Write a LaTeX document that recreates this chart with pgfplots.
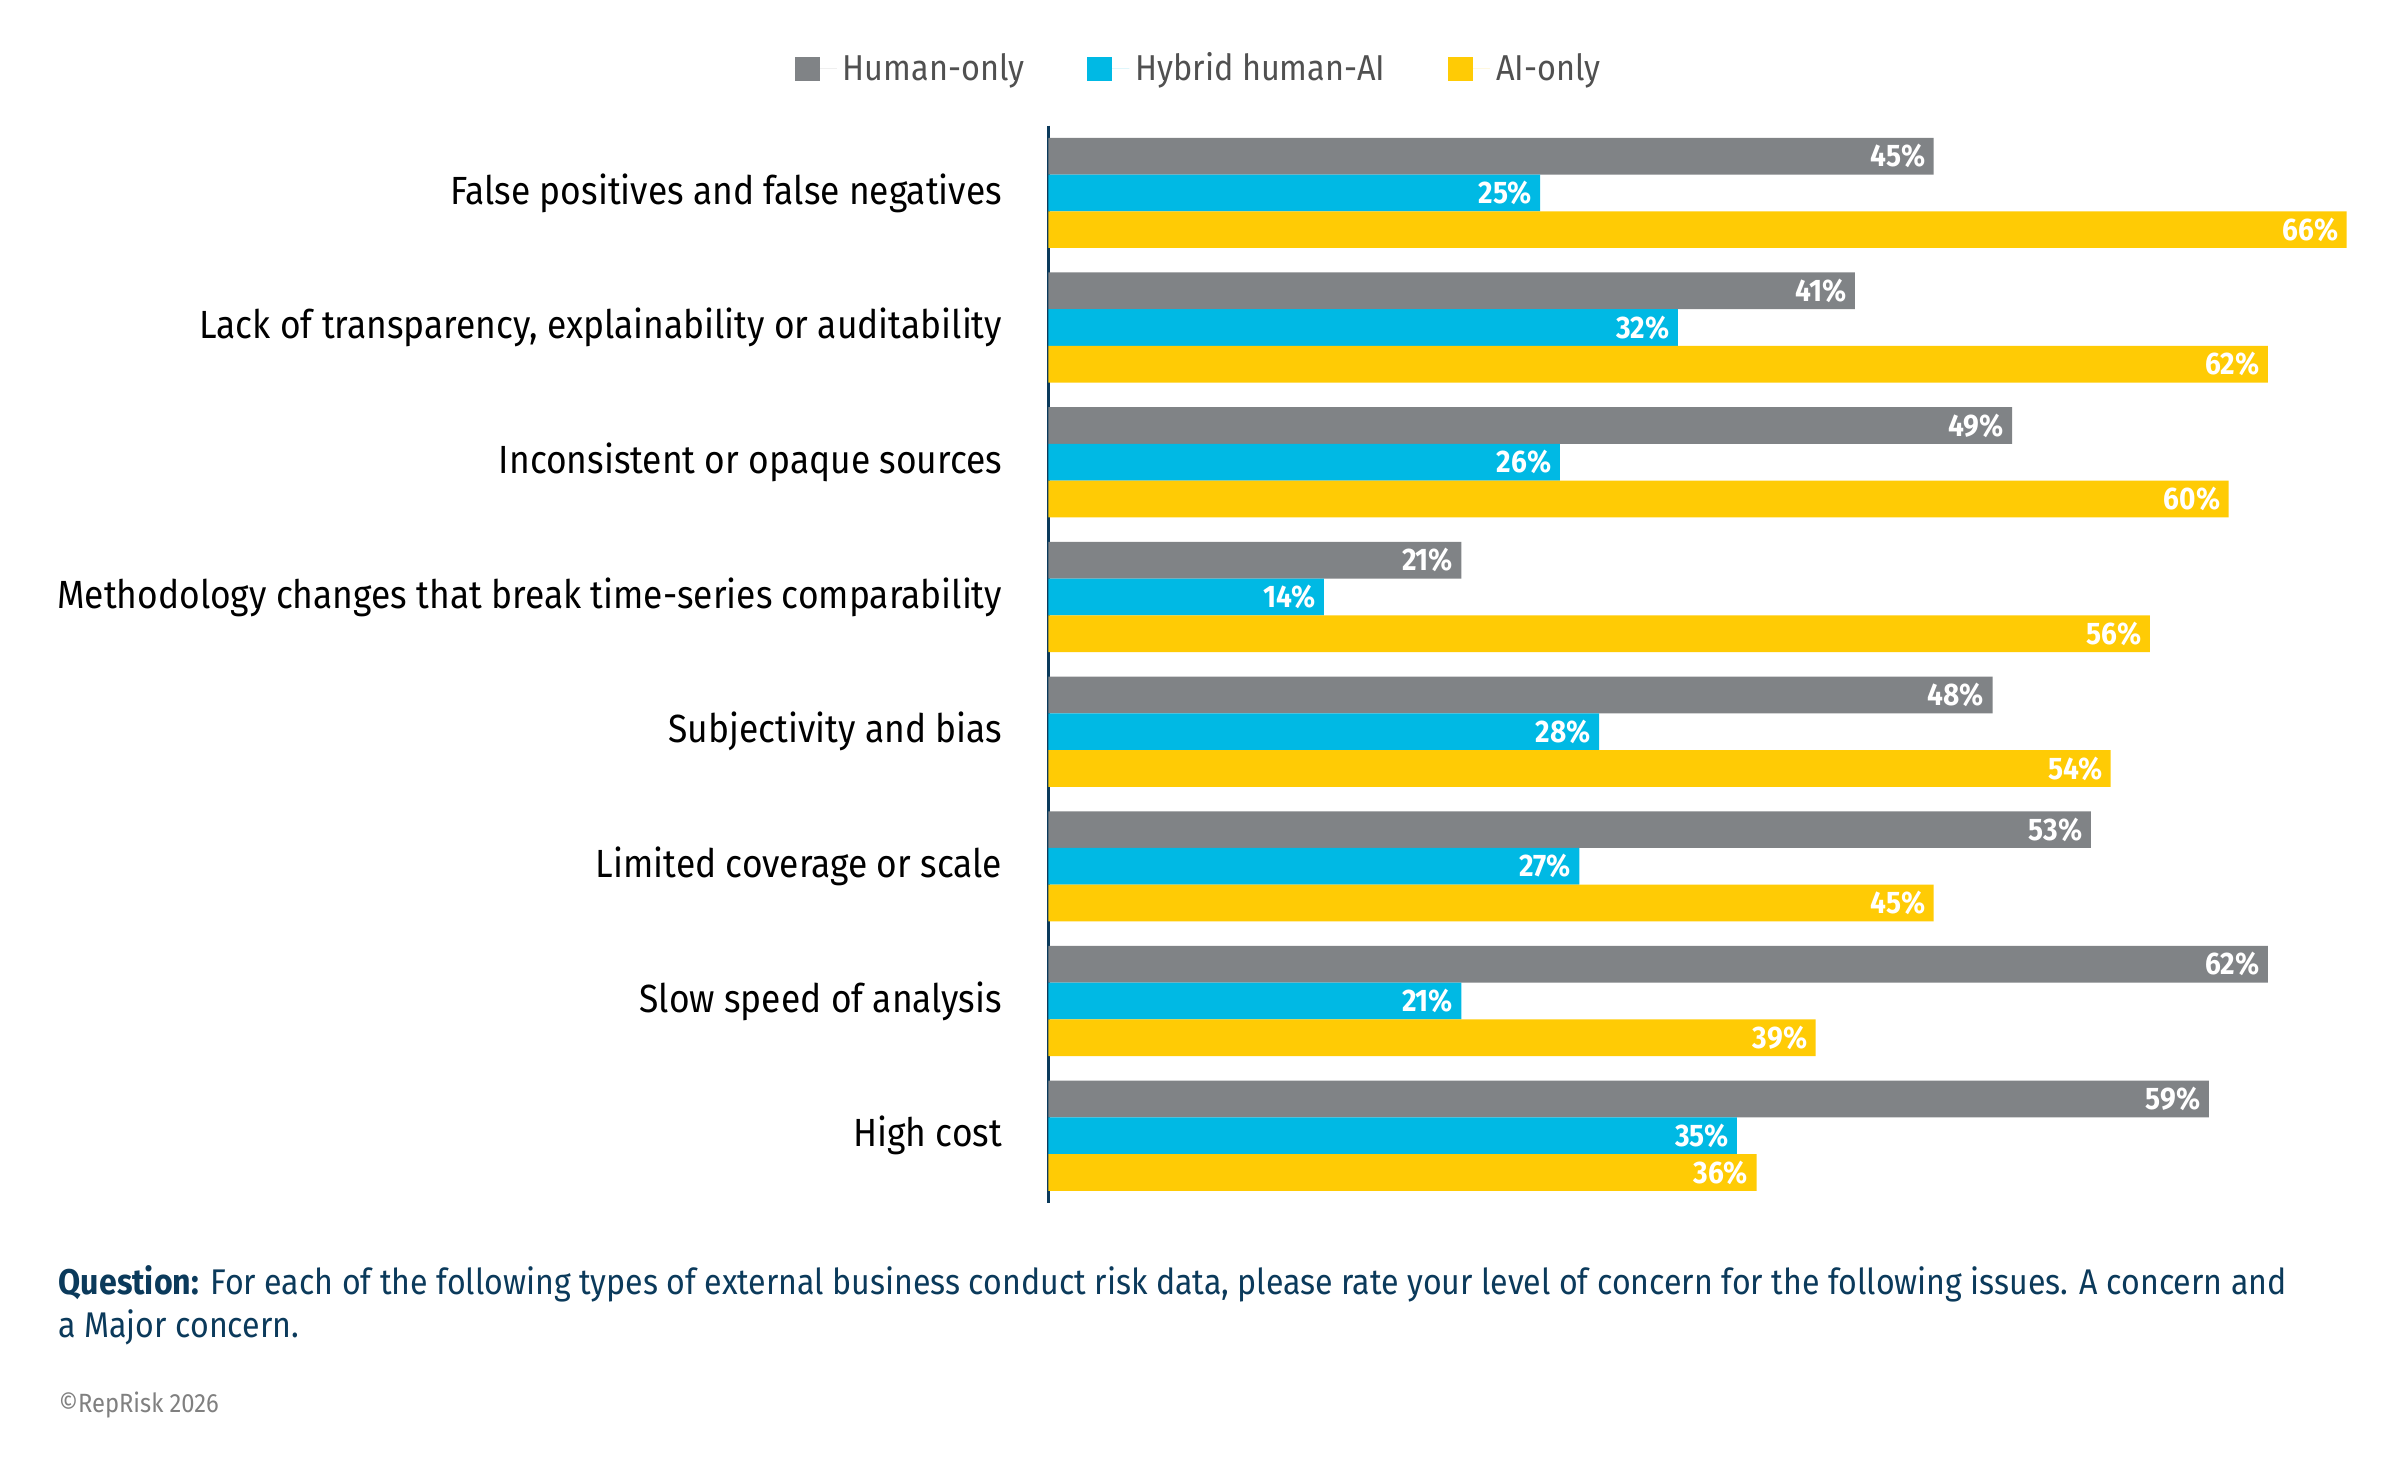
\documentclass[border=0pt]{standalone}
\usepackage{fontspec}
\setmainfont{Fira Sans}[FakeStretch=0.9]
\usepackage{pgfplots}
\pgfplotsset{compat=1.18}
\definecolor{cgray}{HTML}{808386}
\definecolor{ccyan}{HTML}{00B9E4}
\definecolor{cyel}{HTML}{FFCB05}
\definecolor{navy}{HTML}{0B3A5B}
\definecolor{legtext}{HTML}{505050}
\definecolor{copygray}{HTML}{808080}
\begin{document}
\begin{tikzpicture}
\useasboundingbox[fill=white] (0pt,0pt) rectangle (800pt,-490.67pt);
\begin{axis}[
  at={(349.49pt,-401.02pt)}, anchor=south west,
  scale only axis, width=445.8pt, height=359.18pt,
  xbar, bar width=12.245pt,
  xmin=0, xmax=68, ymin=-0.5, ymax=7.5, y dir=reverse,
  axis x line=none,
  axis y line=left, axis line style={-, navy, line width=1pt},
  ytick={0,1,2,3,4,5,6,7},
  yticklabels={False positives and false negatives,
    {Lack of transparency, explainability or auditability},
    Inconsistent or opaque sources,
    Methodology changes that break time-series comparability,
    Subjectivity and bias,
    Limited coverage or scale,
    Slow speed of analysis,
    High cost},
  major tick length=0pt,
  yticklabel style={font=\fontsize{13.1}{15}\selectfont, inner sep=0pt, xshift=-15.3pt, text=black},
  /pgf/number format/assume math mode=true,
  point meta=x,
  nodes near coords={\pgfmathprintnumber{\pgfplotspointmeta}\%},
  nodes near coords style={anchor=east, font=\bfseries\fontsize{10.4}{12}\selectfont, text=white, inner sep=0pt, xshift=-2.6pt},
  legend columns=3,
  legend style={draw=none, fill=none, at={(0.1138,1.0526)}, anchor=center,
    font=\fontsize{12}{14}\selectfont, text=legtext,
    /tikz/every even column/.append style={column sep=19pt}},
]
\addplot[draw=none, fill=cgray, bar shift=12.245pt,
  legend image code/.code={\fill[cgray] (0pt,-4.1pt) rectangle (8.2pt,4.1pt); \path (0pt,0pt) -- (14pt,0pt);}]
  coordinates {(45,0) (41,1) (49,2) (21,3) (48,4) (53,5) (62,6) (59,7)};
\addlegendentry{Human-only}
\addplot[draw=none, fill=ccyan, bar shift=0pt,
  legend image code/.code={\fill[ccyan] (0pt,-4.1pt) rectangle (8.2pt,4.1pt); \path (0pt,0pt) -- (14pt,0pt);}]
  coordinates {(25,0) (32,1) (26,2) (14,3) (28,4) (27,5) (21,6) (35,7)};
\addlegendentry{Hybrid human-AI}
\addplot[draw=none, fill=cyel, bar shift=-12.245pt,
  legend image code/.code={\fill[cyel] (0pt,-4.1pt) rectangle (8.2pt,4.1pt); \path (0pt,0pt) -- (14pt,0pt);}]
  coordinates {(66,0) (62,1) (60,2) (56,3) (54,4) (45,5) (39,6) (36,7)};
\addlegendentry{AI-only}
\end{axis}
\node[anchor=base west, inner sep=0pt, text=navy, font=\fontsize{11.9}{14}\selectfont] at (19.39pt,-431.6pt)
  {\textbf{Question:} For each of the following types of external business conduct risk data, please rate your level of concern for the following issues. A concern and};
\node[anchor=base west, inner sep=0pt, text=navy, font=\fontsize{11.9}{14}\selectfont] at (19.39pt,-445.9pt)
  {a Major concern.};
\node[anchor=base west, inner sep=0pt, text=copygray, font=\fontsize{8.8}{10}\selectfont] at (19.39pt,-470.9pt)
  {©RepRisk 2026};
\end{tikzpicture}
\end{document}
